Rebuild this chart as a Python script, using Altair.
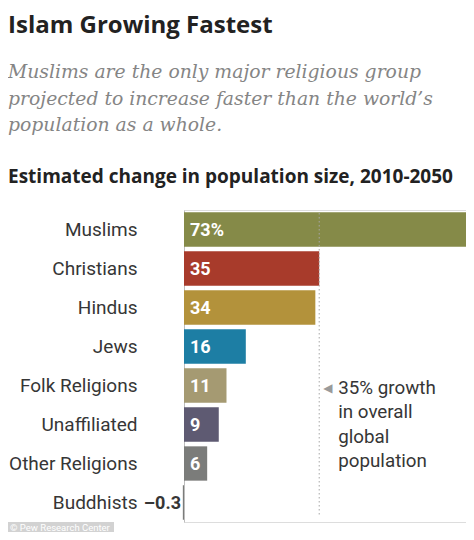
import altair as alt
import pandas as pd

categories = ["Muslims", "Christians", "Hindus", "Jews", "Folk Religions",
              "Unaffiliated", "Other Religions", "Buddhists"]
values = [73, 35, 34, 16, 11, 9, 6, -0.3]
value_labels = ["73%", "35", "34", "16", "11", "9", "6", "\u20130.3"]
bar_colors = ["#858a48", "#a83b2b", "#b3923b", "#1d7ea4", "#a59a72",
              "#5e5a72", "#7b7c7a", "#7b7c7a"]

title_text = "Islam Growing Fastest"
subtitle_lines = ["Muslims are the only major religious group",
                  "projected to increase faster than the world\u2019s",
                  "population as a whole."]
header_text = "Estimated change in population size, 2010-2050"
world_growth = 35
annotation_lines = ["35% growth", "in overall", "global", "population"]
footer_text = "\u00a9 Pew Research Center"

df = pd.DataFrame({
    "religion": categories,
    "value": values,
    "label": value_labels,
    "color": bar_colors,
    "inside": [v > 0 for v in values],
    "zero": [0] * len(categories),
})

FONT = "Roboto"
HEAD = "Open Sans"
LEFT = 176
xscale = alt.Scale(domain=[0, 73], nice=False, zero=True)


def X(field):
    return alt.X(field, type="quantitative", scale=xscale, axis=None)


def Y():
    return alt.Y("religion:N", sort=categories,
                 scale=alt.Scale(paddingInner=0.12, paddingOuter=0.06),
                 axis=alt.Axis(title=None, ticks=False, labelPadding=47,
                               labelFontSize=19, labelColor="#363636", labelFont=FONT,
                               domainColor="#bdbdbd", domainWidth=1, grid=False))


base = alt.Chart(df)

bars = base.mark_bar().encode(
    x=X("value"), y=Y(), color=alt.Color("color:N", scale=None),
)

inside_labels = base.transform_filter("datum.inside").mark_text(
    align="left", baseline="middle", dx=6, dy=1, font=FONT, fontSize=18,
    fontWeight="bold", color="white"
).encode(x=X("zero"), y=Y(), text="label:N")

outside_labels = base.transform_filter("!datum.inside").mark_text(
    align="right", baseline="middle", dx=-3, dy=1, font=FONT, fontSize=18,
    fontWeight="bold", color="#363636"
).encode(x=X("zero"), y=Y(), text="label:N")

ann_df = pd.DataFrame({"g": [world_growth], "religion": ["Folk Religions"],
                       "txt": ["\n".join(annotation_lines)], "tri": ["\u25c0"]})

rule = alt.Chart(ann_df).mark_rule(
    color="#a8a8a8", strokeDash=[1.5, 2.5], strokeWidth=1
).encode(x=X("g"), y=alt.value(3), y2=alt.value(307))

ann_text = alt.Chart(ann_df).mark_text(
    align="left", baseline="alphabetic", dx=19, dy=8, font=FONT, fontSize=18.8,
    color="#363636", lineHeight=24.5, lineBreak="\n"
).encode(x=X("g"), y=Y(), text="txt:N")

ann_tri = alt.Chart(ann_df).mark_text(
    align="left", baseline="middle", dx=4, dy=2, font="DejaVu Sans", fontSize=12,
    color="#9a9a9a"
).encode(x=X("g"), y=Y(), text="tri:N")

title_mark = alt.Chart(pd.DataFrame({"t": [title_text]})).mark_text(
    align="left", baseline="alphabetic", font=HEAD, fontSize=24,
    fontWeight="bold", color="#222222"
).encode(x=alt.value(-LEFT), y=alt.value(-177), text="t:N")

sub_mark = alt.Chart(pd.DataFrame({"t": ["\n".join(subtitle_lines)]})).mark_text(
    align="left", baseline="alphabetic", font="DejaVu Serif", fontSize=18.8,
    fontStyle="italic", color="#858585", lineHeight=26.5, lineBreak="\n"
).encode(x=alt.value(-LEFT), y=alt.value(-132), text="t:N")

header_mark = alt.Chart(pd.DataFrame({"t": [header_text]})).mark_text(
    align="left", baseline="alphabetic", font=HEAD, fontSize=19,
    fontWeight="bold", color="#222222"
).encode(x=alt.value(-LEFT), y=alt.value(-27), text="t:N")

footer_box = alt.Chart(pd.DataFrame({"t": [footer_text]})).mark_rect(
    color="#d2d2d2"
).encode(x=alt.value(-LEFT), x2=alt.value(-70), y=alt.value(312), y2=alt.value(323))

footer_mark = alt.Chart(pd.DataFrame({"t": [footer_text]})).mark_text(
    align="left", baseline="middle", font=FONT, fontSize=9.5, color="#ffffff"
).encode(x=alt.value(-LEFT + 2), y=alt.value(318), text="t:N")

chart = alt.layer(
    bars, rule, inside_labels, outside_labels, ann_tri, ann_text,
    title_mark, sub_mark, header_mark, footer_box, footer_mark
).properties(
    width=282, height=312,
    autosize=alt.AutoSizeParams(type="none"),
    padding={"left": LEFT, "top": 202, "right": 0, "bottom": 10},
).configure_view(stroke=None).configure(background="white")

chart.save("out.html", embed_options={"renderer": "svg", "actions": False})
